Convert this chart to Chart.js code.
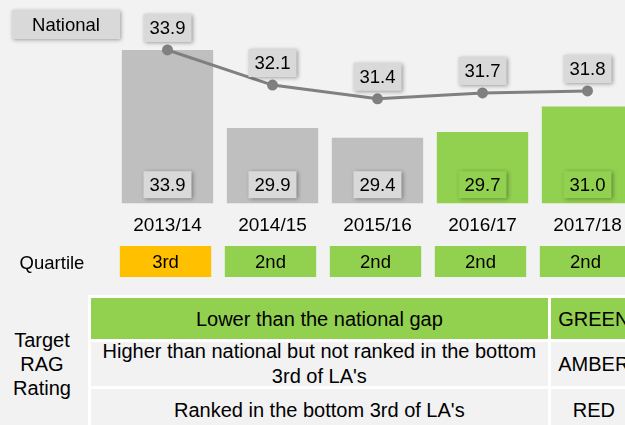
<!DOCTYPE html>
<html>
<head>
<meta charset="utf-8">
<script src="https://cdn.jsdelivr.net/npm/chart.js@4/dist/chart.umd.min.js"></script>
<style>
  html, body { margin: 0; padding: 0; background: #f2f2f2; overflow: hidden; width: 625px; height: 425px; }
  body { position: relative; font-family: "Liberation Sans", Arial, sans-serif; color: #000; }
  #wrap { position: absolute; left: 0; top: 0; width: 640px; height: 290px; }
  .side { position: absolute; font-size: 20px; text-align: center; line-height: 24px; }
  table.rag { position: absolute; left: 88px; top: 295px; width: 552px; table-layout: fixed;
              border-collapse: collapse; font-size: 20px; }
  table.rag td { border: 3px solid #ffffff; text-align: center; padding: 0; line-height: 24px; overflow: visible; }
  table.rag td.desc { width: 455px; }
  table.rag td.rating { width: 86px; }
  .two { line-height: 25px; margin: -3px 0; }
</style>
</head>
<body>
<div id="wrap"><canvas id="grafico"></canvas></div>

<div class="side" style="left:2px; top:328px; width:80px;">Target<br>RAG<br>Rating</div>

<table class="rag">
  <tr style="height:44px; background:#92d050;">
    <td class="desc">Lower than the national gap</td>
    <td class="rating">GREEN</td>
  </tr>
  <tr style="height:44px;">
    <td class="desc"><div class="two">Higher than national but not ranked in the bottom<br>3rd of LA's</div></td>
    <td class="rating">AMBER</td>
  </tr>
  <tr style="height:44px;">
    <td class="desc">Ranked in the bottom 3rd of LA's</td>
    <td class="rating">RED</td>
  </tr>
</table>

<script>
const years = ["2013/14", "2014/15", "2015/16", "2016/17", "2017/18"];
const localGap = [33.9, 29.9, 29.4, 29.7, 31.0];
const nationalGap = [33.9, 32.1, 31.4, 31.7, 31.8];
const barColors = ["#bfbfbf", "#bfbfbf", "#bfbfbf", "#92d050", "#92d050"];
const labelBoxColors = ["#d9d9d9", "#d9d9d9", "#d9d9d9", "#92d050", "#92d050"];
const quartiles = ["3rd", "2nd", "2nd", "2nd", "2nd"];
const quartileColors = ["#ffc000", "#92d050", "#92d050", "#92d050", "#92d050"];

const FONT = '"Liberation Sans", Arial, sans-serif';

function labelBox(ctx, cx, cy, w, h, fill, text) {
  ctx.save();
  ctx.shadowColor = "rgba(0,0,0,0.35)";
  ctx.shadowBlur = 4;
  ctx.shadowOffsetX = 1;
  ctx.shadowOffsetY = 1;
  ctx.fillStyle = fill;
  ctx.fillRect(cx - w / 2, cy - h / 2, w, h);
  ctx.restore();
  ctx.fillStyle = "#000";
  ctx.textAlign = "center";
  ctx.textBaseline = "middle";
  ctx.fillText(text, cx, cy + 1);
}

const extras = {
  id: "extras",
  afterDatasetsDraw(chart) {
    const ctx = chart.ctx;
    const lineMeta = chart.getDatasetMeta(0);
    const barMeta = chart.getDatasetMeta(1);
    const base = chart.chartArea.bottom;
    ctx.save();
    ctx.font = "18.5px " + FONT;

    // legend box
    labelBox(ctx, 66, 24.5, 108, 29, "#d9d9d9", chart.data.datasets[0].label);

    // labels above national points
    lineMeta.data.forEach((pt, i) => {
      labelBox(ctx, pt.x, pt.y - 22, 48, 28, "#d9d9d9", nationalGap[i].toFixed(1));
    });

    // labels inside the bars, near the base
    barMeta.data.forEach((bar, i) => {
      labelBox(ctx, bar.x, base - 18.5, 48, 27, labelBoxColors[i], localGap[i].toFixed(1));
    });

    // quartile row
    ctx.fillStyle = "#000";
    ctx.textAlign = "center";
    ctx.textBaseline = "middle";
    ctx.fillText("Quartile", 52, 264);
    barMeta.data.forEach((bar, i) => {
      const w = bar.width;
      ctx.fillStyle = quartileColors[i];
      ctx.fillRect(bar.x - w / 2 - 2, 246, w, 31);
      ctx.fillStyle = "#000";
      ctx.fillText(quartiles[i], bar.x - 2, 262.5);
    });
    ctx.restore();
  }
};

new Chart(document.getElementById("grafico"), {
  type: "bar",
  data: {
    labels: years,
    datasets: [
      {
        type: "line",
        label: "National",
        data: nationalGap,
        borderColor: "#808080",
        backgroundColor: "#808080",
        borderWidth: 3,
        pointRadius: 4,
        pointHoverRadius: 4,
        tension: 0,
        clip: false,
        order: 0,
      },
      {
        type: "bar",
        label: "Local",
        data: localGap,
        backgroundColor: barColors,
        barPercentage: 0.87,
        categoryPercentage: 1,
        order: 1,
      },
    ],
  },
  options: {
    responsive: true,
    maintainAspectRatio: false,
    animation: false,
    events: [],
    layout: { autoPadding: false, padding: { left: 115, right: 0, top: 0, bottom: 42 } },
    plugins: {
      legend: { display: false },
      tooltip: { enabled: false },
    },
    scales: {
      x: {
        grid: { display: false, drawTicks: false },
        border: { display: false },
        ticks: { color: "#000", padding: 11, font: { size: 19, family: FONT } },
      },
      y: {
        display: false,
        min: 26.05,
        max: 36.46,
      },
    },
  },
  plugins: [extras],
});
</script>
</body>
</html>
